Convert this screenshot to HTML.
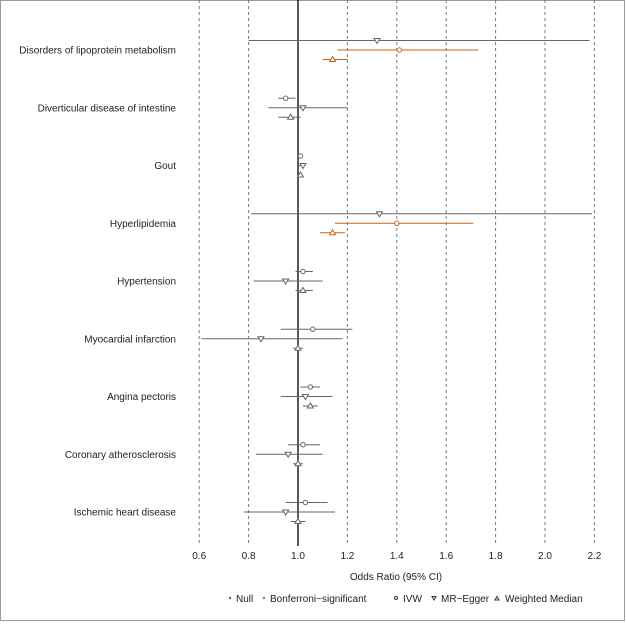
<!DOCTYPE html>
<html><head><meta charset="utf-8"><style>
body{margin:0;background:#fff}
svg text{font-family:"Liberation Sans",Arial,sans-serif;fill:#222}
</style></head><body>
<svg id="c" width="626" height="626">
<rect x="0.5" y="0.5" width="624" height="620" fill="none" stroke="#999"/>
<g id="grid"></g><g id="marks"></g><g id="labels"></g>
<text x="396" y="580" font-size="10" text-anchor="middle">Odds Ratio (95% CI)</text>
<g font-size="10">
<circle cx="230" cy="598" r="1.2" fill="#666"/>
<text x="236" y="602">Null</text>
<circle cx="264" cy="598" r="1.2" fill="#c8651b"/>
<text x="270" y="602">Bonferroni−significant</text>
<circle cx="396" cy="598" r="1.5" fill="none" stroke="#333"/>
<text x="403" y="602">IVW</text>
<path d="M432,596.5 L436,596.5 L434,600 Z" fill="none" stroke="#333"/>
<text x="441" y="602">MR−Egger</text>
<path d="M495,600 L499,600 L497,596.5 Z" fill="none" stroke="#333"/>
<text x="505" y="602">Weighted Median</text>
</g>
</svg>
<script>
const outcomes=["Disorders of lipoprotein metabolism","Diverticular disease of intestine","Gout","Hyperlipidemia","Hypertension","Myocardial infarction","Angina pectoris","Coronary atherosclerosis","Ischemic heart disease"];
const ticks=[0.6,0.8,1.0,1.2,1.4,1.6,1.8,2.0,2.2];
const ivwOR=[1.41,0.95,1.01,1.40,1.02,1.06,1.05,1.02,1.03];
const ivwLo=[1.16,0.92,1.00,1.15,0.99,0.93,1.01,0.96,0.95];
const ivwHi=[1.73,0.99,1.01,1.71,1.06,1.22,1.09,1.09,1.12];
const eggOR=[1.32,1.02,1.02,1.33,0.95,0.85,1.03,0.96,0.95];
const eggLo=[0.80,0.88,1.00,0.81,0.82,0.61,0.93,0.83,0.78];
const eggHi=[2.18,1.20,1.03,2.19,1.10,1.18,1.14,1.10,1.15];
const wmOR=[1.14,0.97,1.01,1.14,1.02,1.00,1.05,1.00,1.00];
const wmLo=[1.10,0.92,1.00,1.09,0.99,0.98,1.02,0.98,0.97];
const wmHi=[1.20,1.01,1.02,1.19,1.06,1.02,1.08,1.02,1.03];
const ivwSig=[1,0,0,1,0,0,0,0,0];
const eggSig=[0,0,0,0,0,0,0,0,0];
const wmSig=[1,0,0,1,0,0,0,0,0];
const eggFirst=[1,0,0,1,0,0,0,0,0];
const NS="http://www.w3.org/2000/svg";
const X=v=>298+(v-1)*247;
const Y=i=>50+i*57.75;
function mk(t,a,p){const e=document.createElementNS(NS,t);for(const k in a)e.setAttribute(k,a[k]);p.appendChild(e);return e;}
const G=document.getElementById('grid'),M=document.getElementById('marks'),L=document.getElementById('labels');
ticks.forEach(t=>{
 const l=mk('line',{x1:X(t),x2:X(t),y1:0,y2:546,stroke:t===1?'#000':'#777','stroke-width':t===1?1.3:1,'stroke-dasharray':t===1?'':'3,3'},G);
 
 
 const tx=mk('text',{x:X(t),y:559,'font-size':10,'text-anchor':'middle'},G);
 tx.textContent=t.toFixed(1);
 
 
});
function draw(y,or,lo,hi,sig,shape,name){
 const c=sig?'#c8651b':'#666';
 const l=mk('line',{x1:X(lo),x2:X(hi),y1:y,y2:y,stroke:c,'stroke-width':1},M);
 
 
 const x=X(or);let m;
 if(shape==='c')m=mk('circle',{cx:x,cy:y,r:2.2,fill:'#fff',stroke:c},M);
 else if(shape==='d')m=mk('path',{d:`M${x-3},${y-2} L${x+3},${y-2} L${x},${y+3} Z`,fill:'#fff',stroke:c},M);
 else m=mk('path',{d:`M${x-3},${y+2} L${x+3},${y+2} L${x},${y-3} Z`,fill:'#fff',stroke:c},M);
 
 
}
outcomes.forEach((o,i)=>{
 const y=Y(i);
 const t=mk('text',{x:176,y:y+3.5,'font-size':10,'text-anchor':'end'},L);
 t.textContent=o;
 
 
 const yI=eggFirst[i]?y:y-9.5, yE=eggFirst[i]?y-9.5:y;
 draw(yE,eggOR[i],eggLo[i],eggHi[i],eggSig[i],'d','mr-egger');
 draw(yI,ivwOR[i],ivwLo[i],ivwHi[i],ivwSig[i],'c','ivw');
 draw(y+9.5,wmOR[i],wmLo[i],wmHi[i],wmSig[i],'t','weighted-median');
});
</script>
</body></html>
